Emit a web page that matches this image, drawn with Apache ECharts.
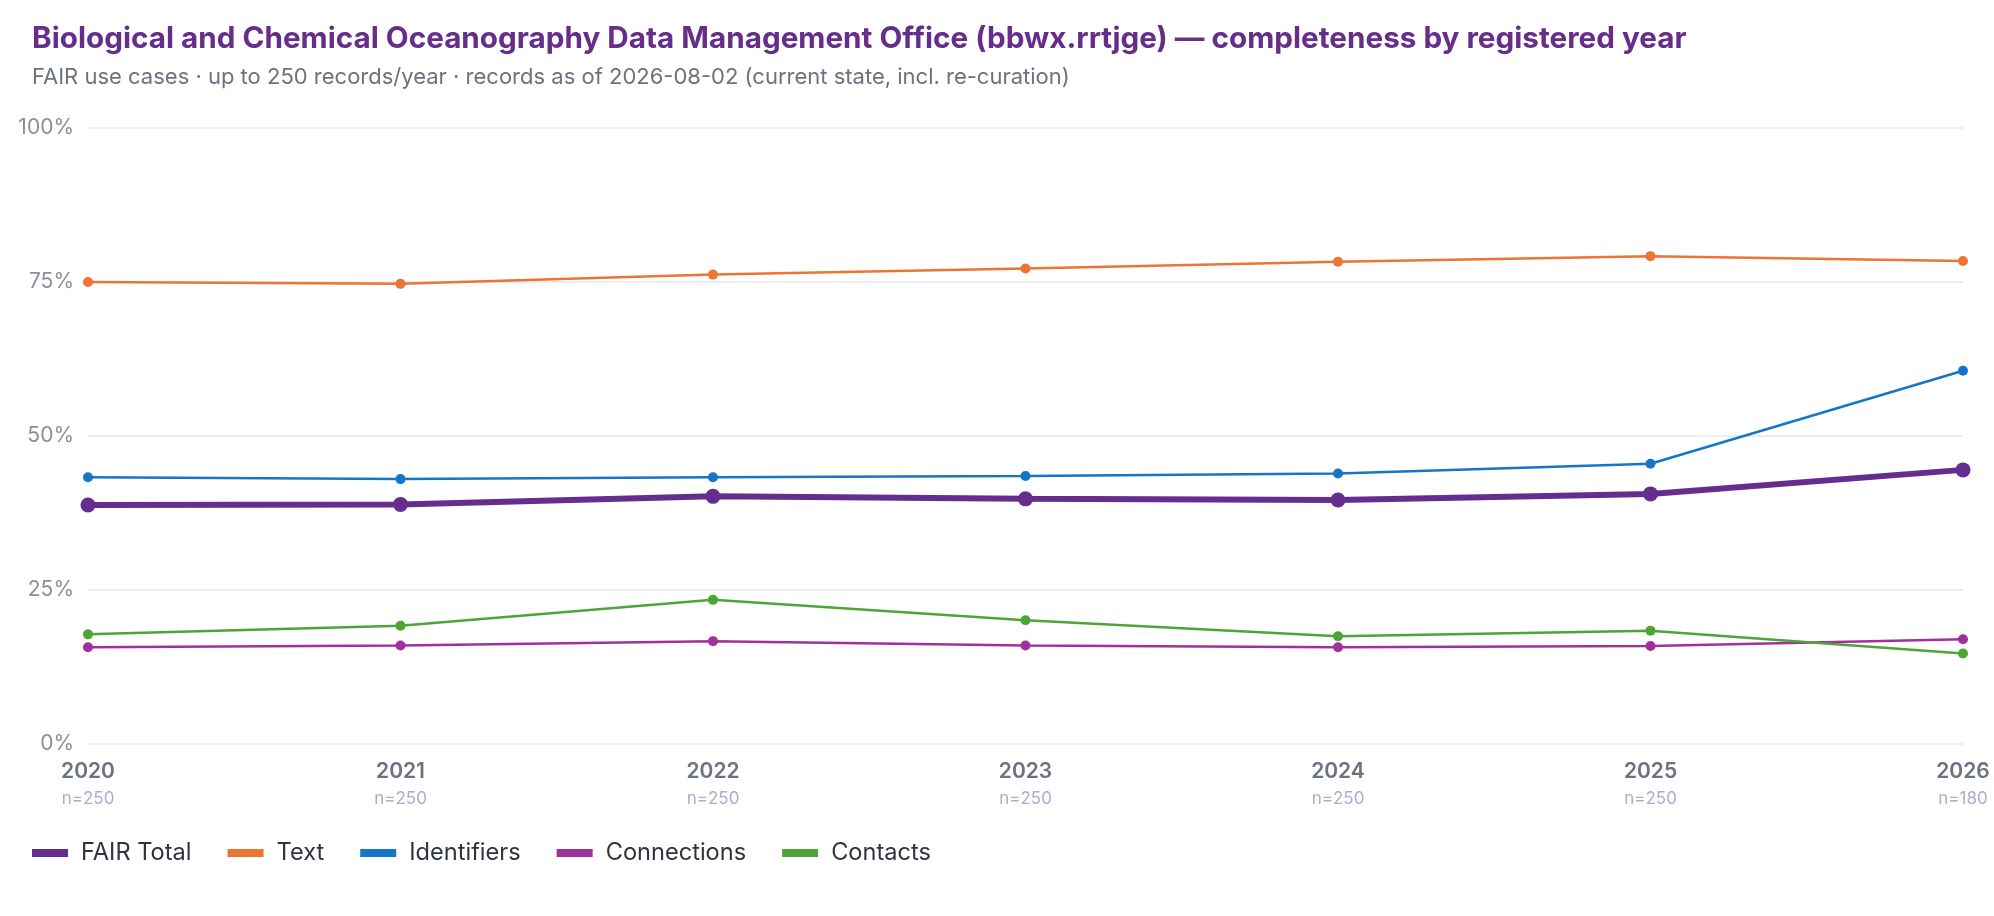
<!DOCTYPE html>
<html>
<head>
<meta charset="utf-8">
<title>BCO-DMO completeness by registered year</title>
<script src="https://cdn.jsdelivr.net/npm/echarts@6/dist/echarts.min.js"></script>
<style>
  html, body { margin: 0; padding: 0; background: #fff; }
  #chart { width: 1994px; height: 916px; }
</style>
</head>
<body>
<div id="chart"></div>
<script>
// registered years and sample sizes
const years = ['2020', '2021', '2022', '2023', '2024', '2025', '2026'];
const sampleSizes = [250, 250, 250, 250, 250, 250, 180];

// completeness (%) per year
const fairTotal   = [38.8, 38.9, 40.2, 39.8, 39.6, 40.6, 44.5];
const text        = [75.0, 74.7, 76.2, 77.2, 78.3, 79.2, 78.4];
const identifiers = [43.3, 43.0, 43.3, 43.5, 43.9, 45.5, 60.6];
const connections = [15.7, 16.0, 16.7, 16.0, 15.7, 15.9, 17.0];
const contacts    = [17.8, 19.2, 23.4, 20.1, 17.5, 18.4, 14.7];

const yTicks = [0, 25, 50, 75, 100];

const font = 'Inter, "Noto Sans", sans-serif';

const myChart = echarts.init(document.getElementById('chart'));

function thinLine(name, data, color) {
  return {
    name: name,
    type: 'line',
    data: data,
    symbol: 'circle',
    symbolSize: 10,
    lineStyle: { width: 2.5, color: color },
    itemStyle: { color: color },
    emphasis: { disabled: true }
  };
}

var option = {
  animation: false,
  textStyle: { fontFamily: font },
  title: {
    text: 'Biological and Chemical Oceanography Data Management Office (bbwx.rrtjge) \u2014 completeness by registered year',
    subtext: 'FAIR use cases \u00b7 up to 250 records/year \u00b7 records as of 2026-08-02 (current state, incl. re-curation)',
    left: 27,
    top: 15,
    itemGap: 5,
    textStyle: { fontFamily: font, fontSize: 29.7, fontWeight: 700, color: '#672d8a', lineHeight: 38 },
    subtextStyle: { fontFamily: font, fontSize: 22, color: '#6b7280', lineHeight: 28 }
  },
  legend: {
    left: 27,
    top: 836,
    icon: 'rect',
    itemWidth: 36,
    itemHeight: 8,
    itemGap: 36,
    textStyle: { fontFamily: font, fontSize: 23.6, color: '#2f3441', padding: [0, 0, 0, 8] },
    data: ['FAIR Total', 'Text', 'Identifiers', 'Connections', 'Contacts']
  },
  grid: { left: 88, right: 31, top: 128, bottom: 172, containLabel: false },
  xAxis: {
    type: 'category',
    data: years,
    boundaryGap: false,
    axisLine: { show: false },
    axisTick: { show: false },
    axisLabel: {
      margin: 14,
      interval: 0,
      formatter: function (v, i) {
        return '{y|' + v + '}\n{n|n=' + sampleSizes[i] + '}';
      },
      rich: {
        y: { fontFamily: font, fontSize: 21, fontWeight: 600, color: '#6b7280', lineHeight: 28 },
        n: { fontFamily: font, fontSize: 17, color: '#b7a6d0', lineHeight: 26 }
      }
    }
  },
  yAxis: {
    type: 'value',
    min: yTicks[0],
    max: yTicks[yTicks.length - 1],
    interval: 25,
    axisLine: { show: false },
    axisTick: { show: false },
    axisLabel: { formatter: '{value}%', fontFamily: font, fontSize: 21, color: '#8a8f9c', margin: 14 },
    splitLine: { lineStyle: { color: '#ebebf0', width: 2 } }
  },
  series: [
    {
      name: 'FAIR Total',
      type: 'line',
      data: fairTotal,
      z: 5,
      symbol: 'circle',
      symbolSize: 15,
      lineStyle: { width: 6, color: '#652d8e' },
      itemStyle: { color: '#652d8e' },
      emphasis: { disabled: true }
    },
    thinLine('Text', text, '#ec7435'),
    thinLine('Identifiers', identifiers, '#1476c6'),
    thinLine('Connections', connections, '#a2309c'),
    thinLine('Contacts', contacts, '#4ca535')
  ]
};

myChart.setOption(option);
window.onresize = () => { myChart.resize() };
</script>
</body>
</html>
